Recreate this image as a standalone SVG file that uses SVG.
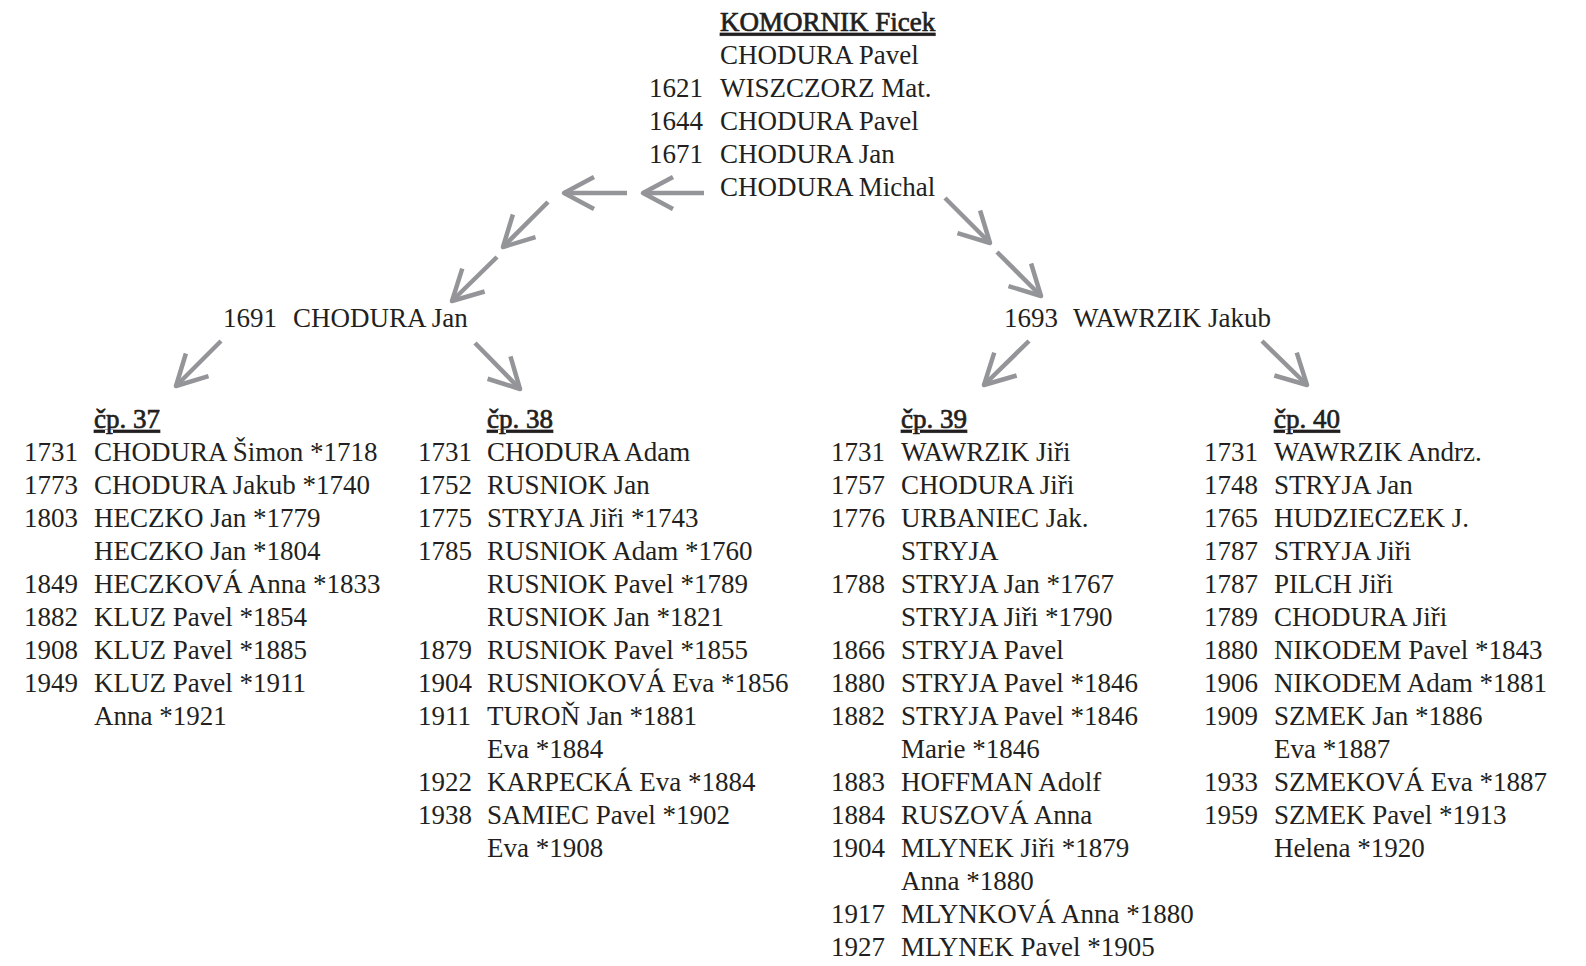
<svg xmlns="http://www.w3.org/2000/svg" width="1586" height="966" viewBox="0 0 1586 966">
<style>
text{font-family:"Liberation Serif","Times New Roman",serif;font-size:27px;fill:#231f20}
.h{text-decoration:underline;stroke:#231f20;stroke-width:0.7}
.c line{stroke:#939598;stroke-width:4.5;fill:none;marker-end:url(#ah)}
</style>
<defs>
<marker id="ah" markerUnits="userSpaceOnUse" viewBox="-40 -20 44 40" markerWidth="44" markerHeight="40" refX="0" refY="0" orient="auto" overflow="visible">
<path d="M-30,-16 L0,0 L-30,16" fill="none" stroke="#939598" stroke-width="4.5" stroke-linejoin="round" stroke-linecap="butt"/>
</marker>
</defs>
<rect width="1586" height="966" fill="#ffffff"/>
<g id="connectors" class="c">
<line x1="627" y1="193" x2="564" y2="193"/>
<line x1="704" y1="193" x2="643" y2="193"/>
<line x1="548" y1="202" x2="503" y2="247"/>
<line x1="497" y1="257" x2="452" y2="301"/>
<line x1="221" y1="341" x2="176" y2="386"/>
<line x1="475" y1="343" x2="520" y2="389"/>
<line x1="945" y1="198" x2="990" y2="243"/>
<line x1="997" y1="252" x2="1041" y2="296"/>
<line x1="1029" y1="341" x2="984" y2="385"/>
<line x1="1262" y1="341" x2="1307" y2="385"/>
</g>
<g id="top">
<text class="h" x="720" y="31">KOMORNIK Ficek</text>
<text x="720" y="64">CHODURA Pavel</text>
<text y="97"><tspan x="649">1621</tspan><tspan x="720">WISZCZORZ Mat.</tspan></text>
<text y="130"><tspan x="649">1644</tspan><tspan x="720">CHODURA Pavel</tspan></text>
<text y="163"><tspan x="649">1671</tspan><tspan x="720">CHODURA Jan</tspan></text>
<text x="720" y="196">CHODURA Michal</text>
</g>
<g id="n1691">
<text y="327"><tspan x="223">1691</tspan><tspan x="293">CHODURA Jan</tspan></text>
</g>
<g id="n1693">
<text y="327"><tspan x="1004">1693</tspan><tspan x="1073">WAWRZIK Jakub</tspan></text>
</g>
<g id="cp37">
<text class="h" x="94" y="428">čp. 37</text>
<text y="461"><tspan x="24">1731</tspan><tspan x="94">CHODURA Šimon *1718</tspan></text>
<text y="494"><tspan x="24">1773</tspan><tspan x="94">CHODURA Jakub *1740</tspan></text>
<text y="527"><tspan x="24">1803</tspan><tspan x="94">HECZKO Jan *1779</tspan></text>
<text y="560"><tspan x="94">HECZKO Jan *1804</tspan></text>
<text y="593"><tspan x="24">1849</tspan><tspan x="94">HECZKOVÁ Anna *1833</tspan></text>
<text y="626"><tspan x="24">1882</tspan><tspan x="94">KLUZ Pavel *1854</tspan></text>
<text y="659"><tspan x="24">1908</tspan><tspan x="94">KLUZ Pavel *1885</tspan></text>
<text y="692"><tspan x="24">1949</tspan><tspan x="94">KLUZ Pavel *1911</tspan></text>
<text y="725"><tspan x="94">Anna *1921</tspan></text>
</g>
<g id="cp38">
<text class="h" x="487" y="428">čp. 38</text>
<text y="461"><tspan x="418">1731</tspan><tspan x="487">CHODURA Adam</tspan></text>
<text y="494"><tspan x="418">1752</tspan><tspan x="487">RUSNIOK Jan</tspan></text>
<text y="527"><tspan x="418">1775</tspan><tspan x="487">STRYJA Jiři *1743</tspan></text>
<text y="560"><tspan x="418">1785</tspan><tspan x="487">RUSNIOK Adam *1760</tspan></text>
<text y="593"><tspan x="487">RUSNIOK Pavel *1789</tspan></text>
<text y="626"><tspan x="487">RUSNIOK Jan *1821</tspan></text>
<text y="659"><tspan x="418">1879</tspan><tspan x="487">RUSNIOK Pavel *1855</tspan></text>
<text y="692"><tspan x="418">1904</tspan><tspan x="487">RUSNIOKOVÁ Eva *1856</tspan></text>
<text y="725"><tspan x="418">1911</tspan><tspan x="487">TUROŇ Jan *1881</tspan></text>
<text y="758"><tspan x="487">Eva *1884</tspan></text>
<text y="791"><tspan x="418">1922</tspan><tspan x="487">KARPECKÁ Eva *1884</tspan></text>
<text y="824"><tspan x="418">1938</tspan><tspan x="487">SAMIEC Pavel *1902</tspan></text>
<text y="857"><tspan x="487">Eva *1908</tspan></text>
</g>
<g id="cp39">
<text class="h" x="901" y="428">čp. 39</text>
<text y="461"><tspan x="831">1731</tspan><tspan x="901">WAWRZIK Jiři</tspan></text>
<text y="494"><tspan x="831">1757</tspan><tspan x="901">CHODURA Jiři</tspan></text>
<text y="527"><tspan x="831">1776</tspan><tspan x="901">URBANIEC Jak.</tspan></text>
<text y="560"><tspan x="901">STRYJA</tspan></text>
<text y="593"><tspan x="831">1788</tspan><tspan x="901">STRYJA Jan *1767</tspan></text>
<text y="626"><tspan x="901">STRYJA Jiři *1790</tspan></text>
<text y="659"><tspan x="831">1866</tspan><tspan x="901">STRYJA Pavel</tspan></text>
<text y="692"><tspan x="831">1880</tspan><tspan x="901">STRYJA Pavel *1846</tspan></text>
<text y="725"><tspan x="831">1882</tspan><tspan x="901">STRYJA Pavel *1846</tspan></text>
<text y="758"><tspan x="901">Marie *1846</tspan></text>
<text y="791"><tspan x="831">1883</tspan><tspan x="901">HOFFMAN Adolf</tspan></text>
<text y="824"><tspan x="831">1884</tspan><tspan x="901">RUSZOVÁ Anna</tspan></text>
<text y="857"><tspan x="831">1904</tspan><tspan x="901">MLYNEK Jiři *1879</tspan></text>
<text y="890"><tspan x="901">Anna *1880</tspan></text>
<text y="923"><tspan x="831">1917</tspan><tspan x="901">MLYNKOVÁ Anna *1880</tspan></text>
<text y="956"><tspan x="831">1927</tspan><tspan x="901">MLYNEK Pavel *1905</tspan></text>
</g>
<g id="cp40">
<text class="h" x="1274" y="428">čp. 40</text>
<text y="461"><tspan x="1204">1731</tspan><tspan x="1274">WAWRZIK Andrz.</tspan></text>
<text y="494"><tspan x="1204">1748</tspan><tspan x="1274">STRYJA Jan</tspan></text>
<text y="527"><tspan x="1204">1765</tspan><tspan x="1274">HUDZIECZEK J.</tspan></text>
<text y="560"><tspan x="1204">1787</tspan><tspan x="1274">STRYJA Jiři</tspan></text>
<text y="593"><tspan x="1204">1787</tspan><tspan x="1274">PILCH Jiři</tspan></text>
<text y="626"><tspan x="1204">1789</tspan><tspan x="1274">CHODURA Jiři</tspan></text>
<text y="659"><tspan x="1204">1880</tspan><tspan x="1274">NIKODEM Pavel *1843</tspan></text>
<text y="692"><tspan x="1204">1906</tspan><tspan x="1274">NIKODEM Adam *1881</tspan></text>
<text y="725"><tspan x="1204">1909</tspan><tspan x="1274">SZMEK Jan *1886</tspan></text>
<text y="758"><tspan x="1274">Eva *1887</tspan></text>
<text y="791"><tspan x="1204">1933</tspan><tspan x="1274">SZMEKOVÁ Eva *1887</tspan></text>
<text y="824"><tspan x="1204">1959</tspan><tspan x="1274">SZMEK Pavel *1913</tspan></text>
<text y="857"><tspan x="1274">Helena *1920</tspan></text>
</g>
</svg>
